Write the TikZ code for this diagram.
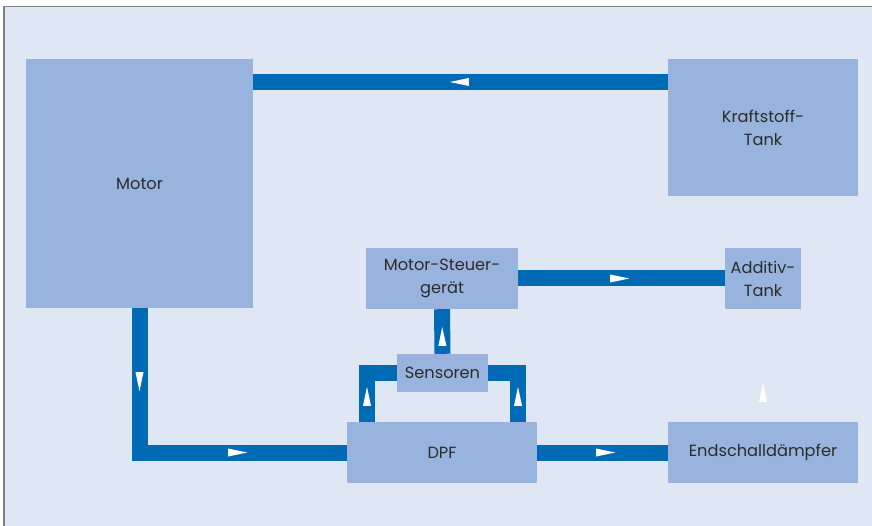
\documentclass[tikz,border=0pt]{standalone}
\usepackage{fontspec}
\setmainfont{Poppins}
\usepackage{xcolor}
\usetikzlibrary{arrows.meta,decorations.markings}

\definecolor{panelbg}{HTML}{E0E7F4}
\definecolor{boxfill}{HTML}{98B3DD}
\definecolor{pipeblue}{HTML}{006AB4}
\definecolor{framegray}{HTML}{808080}
\definecolor{labeltext}{HTML}{2B2B2B}

\begin{document}
\begin{tikzpicture}[
    x=1pt, y=1pt,
    box/.style={fill=boxfill, text=labeltext, inner sep=0pt, align=center, font=\fontsize{16.2}{23}\selectfont},
    pipe/.style={draw=pipeblue, line width=16pt, line join=miter},
    tipat/.style={decoration={markings, mark=at position #1 with {\arrow[white]{Triangle[length=19pt,width=8pt,line width=0pt]}}}, postaction={decorate}}
]
\useasboundingbox (0,0) rectangle (872,-526);
\fill[panelbg] (3,-6) rectangle (872,-526);
\draw[framegray, line width=1.8pt] (4,-526) -- (4,-6.6) -- (872,-6.6);

\node[box, minimum width=227pt, minimum height=249pt] (motor) at (139.5,-183.5) {Motor};
\node[box, minimum width=190pt, minimum height=137pt] (fueltank) at (763,-127.5) {Kraftstoff-\\Tank};
\node[box, minimum width=152pt, minimum height=61pt] (ecu) at (442,-278.5) {Motor-Steuer-\\gerät};
\node[box, minimum width=76pt, minimum height=61pt] (additive) at (763,-278.5) {Additiv-\\Tank};
\node[box, minimum width=91pt, minimum height=38pt] (sensors) at (442.5,-373) {Sensoren};
\node[box, minimum width=190pt, minimum height=61pt] (dpf) at (442,-452.5) {DPF};
\node[box, minimum width=190pt, minimum height=61pt] (muffler) at (763,-452.5) {Endschalldämpfer};

\coordinate (fuelrow) at (0,-82);
\coordinate (leftleg) at (367,-373);
\coordinate (rightleg) at (518,-373);
\coordinate (loosefrom) at (763,-410);
\coordinate (looseto) at (763,-370);

\draw[pipe, tipat=218pt] (fueltank.west |- fuelrow) -- (motor.east |- fuelrow);
\draw[pipe, tipat=111pt] (ecu.east) -- (additive.west);
\draw[pipe, tipat=27pt] (sensors.north) -- (ecu.south);
\draw[pipe, tipat=35pt] (dpf.north -| leftleg) |- (sensors.west);
\draw[pipe, tipat=35pt] (dpf.north -| rightleg) |- (sensors.east);
\draw[pipe, decoration={markings,
    mark=at position 83pt with {\arrow[white]{Triangle[length=19pt,width=8pt,line width=0pt]}},
    mark=at position 252pt with {\arrow[white]{Triangle[length=19pt,width=8pt,line width=0pt]}}},
    postaction={decorate}] (motor.south) |- (dpf.west);
\draw[pipe, tipat=78pt] (dpf.east) -- (muffler.west);
\path[tipat=27pt] (loosefrom) -- (looseto);
\end{tikzpicture}
\end{document}
